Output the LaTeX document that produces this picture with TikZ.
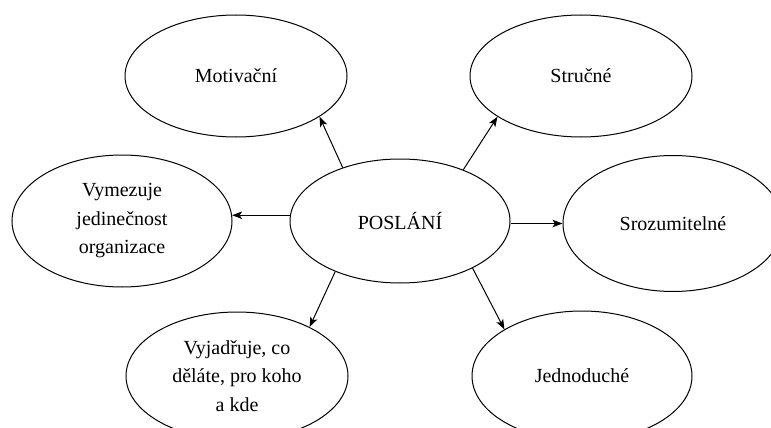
\documentclass[tikz,border=0pt]{standalone}
\usepackage{fontspec}
\setmainfont{Liberation Serif}
\usetikzlibrary{shapes.geometric,arrows.meta}

\tikzset{
  bubble/.style={ellipse, draw, line width=1pt, fill=white, inner sep=0pt,
    align=center, font=\fontsize{20}{28.5}\selectfont},
  link/.style={line width=1pt, -{Stealth[length=10pt,width=7.5pt,inset=2.5pt]}}
}

\begin{document}
\begin{tikzpicture}[x=1pt, y=-1pt]
  \useasboundingbox (0,0) rectangle (771,428);

  % centre
  \node[bubble, minimum width=220pt, minimum height=124pt] (p) at (400,221) {POSLÁNÍ};

  % surrounding qualities
  \node[bubble, minimum width=222pt, minimum height=122pt] (m) at (236,76) {Motivační};
  \node[bubble, minimum width=222pt, minimum height=122pt] (s) at (581,76) {Stručné};
  \node[bubble, minimum width=220pt, minimum height=132pt] (v) at (122,221)
    {Vymezuje\\jedinečnost\\organizace};
  \node[bubble, minimum width=220pt, minimum height=136pt] (r) at (673,223.5) {Srozumitelné};
  \node[bubble, minimum width=222pt, minimum height=128pt] (d) at (237,376)
    {Vyjadřuje, co\\děláte, pro koho\\a kde};
  \node[bubble, minimum width=220pt, minimum height=130pt] (j) at (582,376) {Jednoduché};

  % arrows from the centre
  \draw[link] (p.137) -- (m.-26);
  \draw[link] (p.39) -- (s.206);
  \draw[link] (p.west |- v.3) -- (v.3);
  \draw[link] (p.east |- r.west) -- (r.west);
  \draw[link] (p.218.6) -- (d.34);
  \draw[link] (p.-33) -- (j.149);
\end{tikzpicture}
\end{document}
